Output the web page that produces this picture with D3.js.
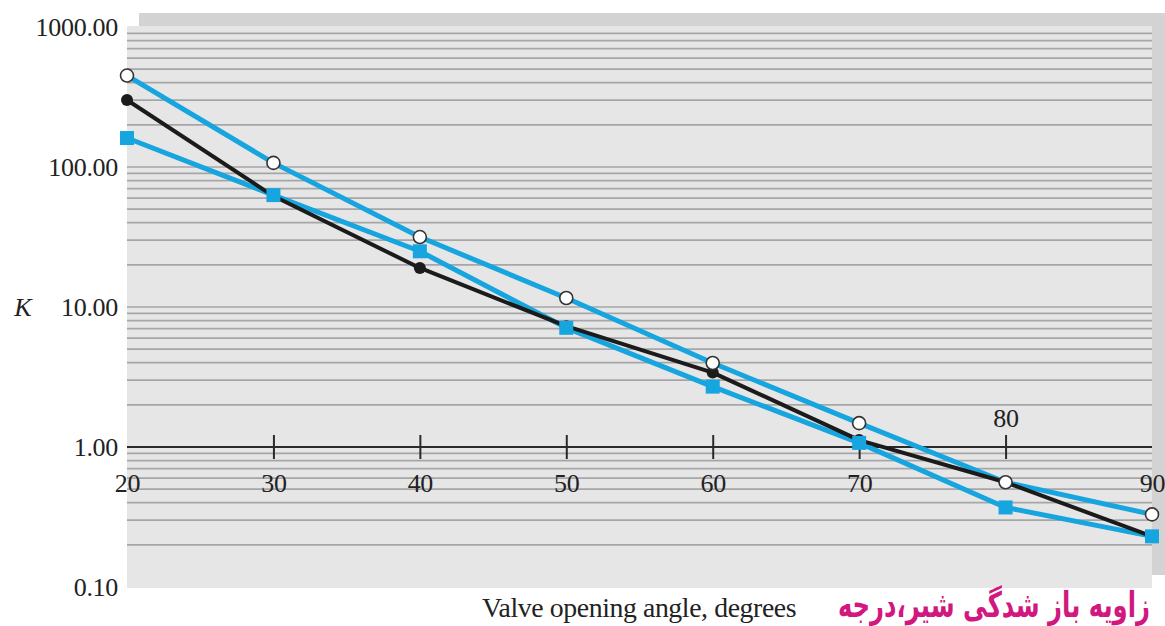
<!DOCTYPE html>
<html>
<head>
<meta charset="utf-8">
<script src="https://cdn.jsdelivr.net/npm/d3@7"></script>
<style>
  body { margin: 0; background: #ffffff; }
  svg { display: block; }
</style>
</head>
<body>
<svg id="chart" width="1165" height="626"></svg>
<script>
// Loss coefficient K against valve opening angle
const angles = [20, 30, 40, 50, 60, 70, 80, 90];
const kBlackDots   = [301, 62, 19, 7.3, 3.4, 1.12, 0.56, 0.23];
const kOpenCircles = [450, 107, 31.6, 11.6, 3.98, 1.48, 0.56, 0.33];
const kSquares     = [161, 63, 25, 7.1, 2.7, 1.07, 0.37, 0.23];

const yTickValues = [0.1, 1, 10, 100, 1000];
const xTickValues = [20, 30, 40, 50, 60, 70, 80, 90];
const xTicksAbove = [80];

const yTitle = "K";
const xTitle = "Valve opening angle, degrees";
const xTitleFa = "زاویه باز شدگی شیر،درجه";

const svg = d3.select("#chart");
const W = 1165, H = 626;

const plot = { left: 127, right: 1152, top: 27, bottom: 587 };

const x = d3.scaleLinear().domain([20, 90]).range([plot.left, plot.right]);
const y = d3.scaleLog().domain([0.1, 1000]).range([plot.bottom, plot.top]);

const BLUE = "#17a5df";
const serif = "'Liberation Serif', 'Times New Roman', serif";

// panel with its drop shadow
svg.append("rect")
  .attr("x", 139).attr("y", 13)
  .attr("width", W - 139).attr("height", 575 - 13)
  .attr("fill", "#d3d3d4");
svg.append("rect")
  .attr("x", plot.left).attr("y", 26)
  .attr("width", plot.right - plot.left).attr("height", 588 - 26)
  .attr("fill", "#e6e6e6");

// minor log gridlines (2..9 and decades) inside each decade
const gridVals = [];
[0.1, 1, 10, 100].forEach(d => {
  for (let m = 1; m <= 9; m++) {
    const v = +(m * d).toPrecision(6);
    if (v === 0.1 || v === 1) continue;
    gridVals.push(v);
  }
});
svg.append("g")
  .selectAll("line")
  .data(gridVals)
  .join("line")
  .attr("x1", plot.left).attr("x2", plot.right)
  .attr("y1", d => y(d)).attr("y2", d => y(d))
  .attr("stroke", "#a6a6a8")
  .attr("stroke-width", 1.7);

// y axis labels
const yAxis = d3.axisLeft(y)
  .tickValues(yTickValues)
  .tickFormat(d3.format(".2f"))
  .tickSize(0)
  .tickPadding(9);
const gy = svg.append("g")
  .attr("transform", `translate(${plot.left},0)`)
  .call(yAxis);
gy.select(".domain").remove();
gy.selectAll("text")
  .attr("font-family", serif)
  .attr("font-size", 26)
  .attr("fill", "#222")
  .attr("dy", "0.34em")
  .attr("letter-spacing", "-0.3");

// x axis drawn through K = 1
const xAxis = d3.axisBottom(x)
  .tickValues(xTickValues)
  .tickFormat(d3.format("d"))
  .tickSize(0);
const gx = svg.append("g")
  .attr("transform", `translate(0,${y(1)})`)
  .call(xAxis);
gx.select(".domain")
  .attr("d", `M${plot.left},0H${plot.right}`)
  .attr("stroke", "#2a2a2a")
  .attr("stroke-width", 2);
gx.selectAll(".tick line")
  .attr("y1", -12).attr("y2", 12)
  .attr("stroke", "#2a2a2a")
  .attr("stroke-width", 2)
  .attr("display", d => (d === 20 || d === 90) ? "none" : null);
gx.selectAll(".tick text")
  .attr("font-family", serif)
  .attr("font-size", 26)
  .attr("fill", "#222")
  .attr("letter-spacing", "-0.3")
  .attr("y", d => xTicksAbove.includes(d) ? -29 : 36)
  .attr("dy", "0.34em");

// series lines
const line = vals => d3.line()
  .x((d, i) => x(angles[i]))
  .y(d => y(d))(vals);

svg.append("path").attr("d", line(kSquares))
  .attr("fill", "none").attr("stroke", BLUE).attr("stroke-width", 5)
  .attr("stroke-linejoin", "round");
svg.append("path").attr("d", line(kOpenCircles))
  .attr("fill", "none").attr("stroke", BLUE).attr("stroke-width", 5)
  .attr("stroke-linejoin", "round");
svg.append("path").attr("d", line(kBlackDots))
  .attr("fill", "none").attr("stroke", "#1b1b1b").attr("stroke-width", 4)
  .attr("stroke-linejoin", "round");

// markers: black dots sit beneath the squares
svg.append("g").selectAll("circle")
  .data(kBlackDots)
  .join("circle")
  .attr("cx", (d, i) => x(angles[i]))
  .attr("cy", d => y(d))
  .attr("r", 6)
  .attr("fill", "#1b1b1b");

const sq = 14;
svg.append("g").selectAll("rect")
  .data(kSquares)
  .join("rect")
  .attr("x", (d, i) => x(angles[i]) - sq / 2)
  .attr("y", d => y(d) - sq / 2)
  .attr("width", sq).attr("height", sq)
  .attr("fill", BLUE);

svg.append("g").selectAll("circle")
  .data(kOpenCircles)
  .join("circle")
  .attr("cx", (d, i) => x(angles[i]))
  .attr("cy", d => y(d))
  .attr("r", 6.5)
  .attr("fill", "#ffffff")
  .attr("stroke", "#333")
  .attr("stroke-width", 1.6);

// axis titles
svg.append("text")
  .attr("x", 23).attr("y", y(10))
  .attr("dy", "0.34em")
  .attr("text-anchor", "middle")
  .attr("font-family", serif)
  .attr("font-style", "italic")
  .attr("font-size", 26)
  .attr("fill", "#222")
  .text(yTitle);

const en = svg.append("text")
  .attr("x", 482).attr("y", 608)
  .attr("dy", "0.34em")
  .attr("font-family", serif)
  .attr("font-size", 23)
  .attr("fill", "#222")
  .attr("letter-spacing", "-0.4")
  .text(xTitle);

// Persian title, stretched vertically for a taller, narrower face
const faG = svg.append("g")
  .attr("transform", "translate(1150,606) scale(1,1.45)");
const fa = faG.append("text")
  .attr("x", 0).attr("y", 0)
  .attr("dy", "0.3em")
  .attr("text-anchor", "end")
  .attr("font-family", "'DejaVu Sans', sans-serif")
  .attr("font-weight", "bold")
  .attr("font-size", 24)
  .attr("fill", "#d2187f")
  .text(xTitleFa);

// fit the two title widths
function fitWidth(sel, target) {
  const w = sel.node().getComputedTextLength();
  const fs = +sel.attr("font-size");
  if (w > 0) sel.attr("font-size", (fs * target / w).toFixed(2));
}
fitWidth(en, 312);
fitWidth(fa, 312);
</script>
</body>
</html>
